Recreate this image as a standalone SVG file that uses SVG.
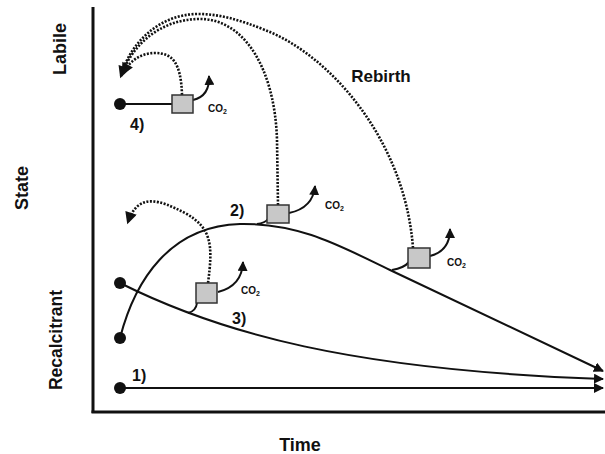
<svg xmlns="http://www.w3.org/2000/svg" width="605" height="454" viewBox="0 0 605 454">
<style>
.lbl{font-family:"Liberation Sans",Arial,sans-serif;font-weight:bold;fill:#111}
.co2{font-family:"Liberation Sans",Arial,sans-serif;font-weight:bold;font-size:10px;fill:#111}
.curve{fill:none;stroke:#111;stroke-width:2}
.dot{fill:none;stroke:#111;stroke-width:2.6;stroke-dasharray:2 1.5}
.box{fill:#c8c8c8;stroke:#333;stroke-width:1.5}
.pt{fill:#111}
</style>
<defs>
<marker id="ah" markerWidth="10" markerHeight="10" viewBox="0 0 10 10" refX="9" refY="5" orient="auto" markerUnits="userSpaceOnUse">
<path d="M0,0 L10,5 L0,10 Z" fill="#111"/>
</marker>
<marker id="ahd" markerWidth="13" markerHeight="12" viewBox="0 0 10 10" refX="8" refY="5" orient="auto" markerUnits="userSpaceOnUse">
<path d="M0,0 L10,5 L0,10 Z" fill="#111"/>
</marker>
</defs>
<g id="axes">
<line x1="93" y1="7" x2="93" y2="413" stroke="#111" stroke-width="3"/>
<line x1="91.5" y1="412" x2="605" y2="412" stroke="#111" stroke-width="3"/>
</g>
<g id="axis-labels">
<text class="lbl" font-size="18" text-anchor="middle" transform="translate(66,49) rotate(-90)">Labile</text>
<text class="lbl" font-size="18" text-anchor="middle" transform="translate(28,188) rotate(-90)">State</text>
<text class="lbl" font-size="17.5" text-anchor="middle" transform="translate(62,340) rotate(-90)">Recalcitrant</text>
<text class="lbl" font-size="18" text-anchor="middle" x="300" y="451">Time</text>
<text class="lbl" font-size="17" text-anchor="middle" x="381" y="82">Rebirth</text>
</g>
<g id="connectors">
<path class="curve" d="M120,388 L603,388" marker-end="url(#ah)"/>
<path class="curve" d="M120,283 C220,333 350,370 603,379" marker-end="url(#ah)"/>
<path class="curve" d="M120,338 C135,280 170,226 240,224 C300,223 340,246 390,270 L603,371" marker-end="url(#ah)"/>
<path class="curve" d="M120,104 L172,104"/>
<path class="curve" d="M188,313 Q196,311 197,303"/>
<path class="curve" d="M257,224 Q265,223 268,219"/>
<path class="curve" d="M392,270 Q404,268 409,262"/>
<path class="curve" d="M193,100 Q210,96 209,76" marker-end="url(#ah)"/>
<path class="curve" d="M289,213 Q313,208 315,186" marker-end="url(#ah)"/>
<path class="curve" d="M218,292 Q242,286 243,262" marker-end="url(#ah)"/>
<path class="curve" d="M430,256 Q450,251 450,229" marker-end="url(#ah)"/>
<path class="dot" d="M182,95 C181,62 172,53 155,53 C140,53 129,62 123,73" marker-end="url(#ahd)"/>
<path class="dot" d="M278,205 L277,140 C275,70 245,19 200,19 C160,19 132,45 121,76" marker-end="url(#ahd)"/>
<path class="dot" d="M413,248 C405,140 330,55 265,30 C240,20 220,14 198,14 C160,14 132,42 122,72"/>
<path class="dot" d="M208,283 C213,245 212,228 185,213 C160,200 138,192 128,222" marker-end="url(#ahd)"/>
</g>
<g id="node-1">
<circle class="pt" cx="120" cy="388" r="6"/>
<text class="lbl" font-size="16" x="132" y="381">1)</text>
</g>
<g id="node-2">
<circle class="pt" cx="120" cy="338" r="6"/>
<rect class="box" x="267" y="205" width="22" height="18"/>
<text class="lbl" font-size="16" x="230" y="216">2)</text>
<text class="co2" x="325" y="209">CO<tspan font-size="7" dy="2">2</tspan></text>
</g>
<g id="node-3">
<circle class="pt" cx="120" cy="283" r="6"/>
<rect class="box" x="196" y="283" width="21" height="20"/>
<text class="lbl" font-size="16" x="232" y="324">3)</text>
<text class="co2" x="241" y="294">CO<tspan font-size="7" dy="2">2</tspan></text>
</g>
<g id="node-4">
<circle class="pt" cx="120" cy="104" r="6"/>
<rect class="box" x="172" y="95" width="21" height="18"/>
<text class="lbl" font-size="16" x="130" y="130">4)</text>
<text class="co2" x="208" y="112">CO<tspan font-size="7" dy="2">2</tspan></text>
</g>
<g id="node-rebirth">
<rect class="box" x="408" y="248" width="22" height="20"/>
<text class="co2" x="447" y="266">CO<tspan font-size="7" dy="2">2</tspan></text>
</g>
</svg>
